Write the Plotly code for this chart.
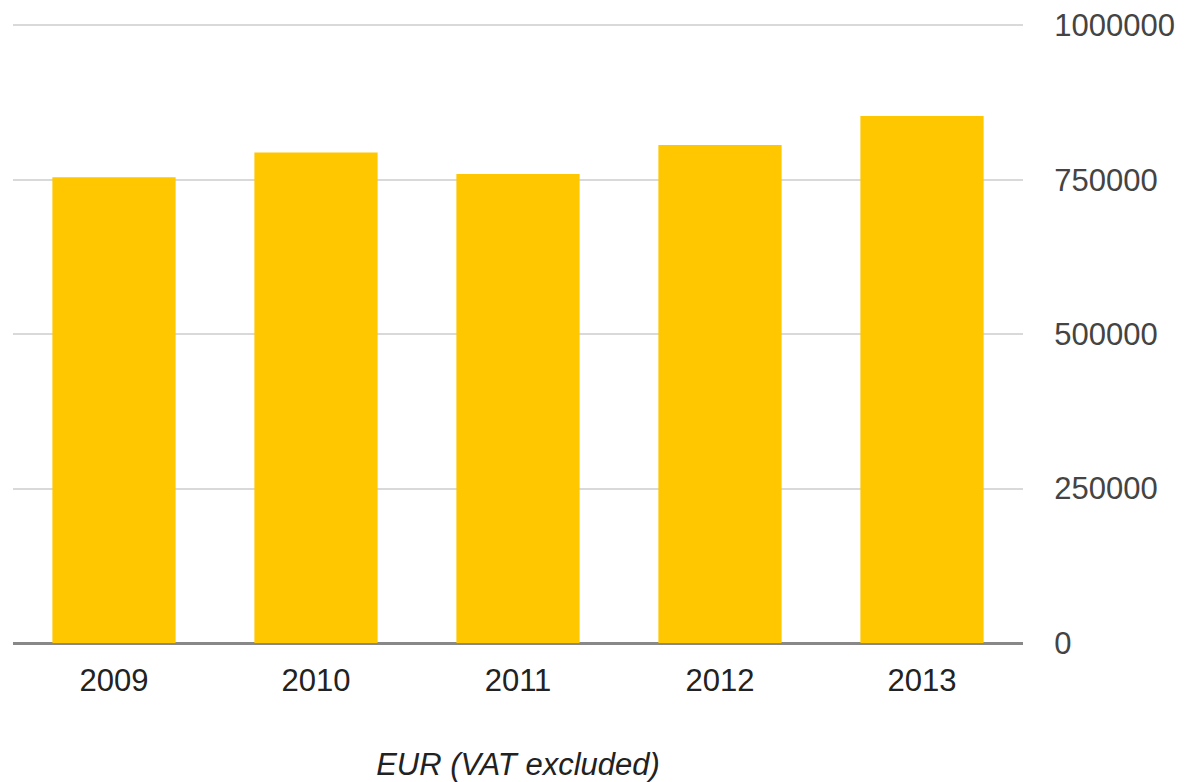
import plotly.graph_objects as go

years = ["2009", "2010", "2011", "2012", "2013"]
values = [754000, 794000, 759000, 806000, 853000]
y_ticks = [0, 250000, 500000, 750000, 1000000]
x_title = "EUR (VAT excluded)"

fig = go.Figure(go.Bar(x=years, y=values, marker=dict(color="#FFC700", line=dict(width=0))))

font = "Liberation Sans, Arial, sans-serif"
# page body has an 8px default margin, so the figure is slightly smaller
fig.update_layout(
    width=1177, height=774,
    margin=dict(l=5, r=162, t=16, b=139),
    paper_bgcolor="white", plot_bgcolor="white",
    bargap=0.39,
    showlegend=False,
    font=dict(family=font, size=31, color="#222222"),
)
fig.update_xaxes(
    automargin=False,
    showgrid=False, showline=False, zeroline=False,
    ticks="outside", ticklen=10, tickcolor="rgba(0,0,0,0)",
    tickfont=dict(size=31, color="#222222"),
    ticklabeloverflow="allow",
    title=dict(text=x_title, font=dict(size=31, color="#222222", style="italic"), standoff=66),
)
fig.update_yaxes(
    automargin=False,
    side="right", range=[0, 1002000],
    tickvals=y_ticks, ticktext=[str(v) for v in y_ticks],
    showgrid=True, gridcolor="#d9d9d9", gridwidth=2,
    zeroline=True, zerolinecolor="#888888", zerolinewidth=3,
    ticks="outside", ticklen=24, tickcolor="rgba(0,0,0,0)",
    tickfont=dict(size=31, color="#444444"),
    ticklabeloverflow="allow",
)
fig.write_html("out.html")
